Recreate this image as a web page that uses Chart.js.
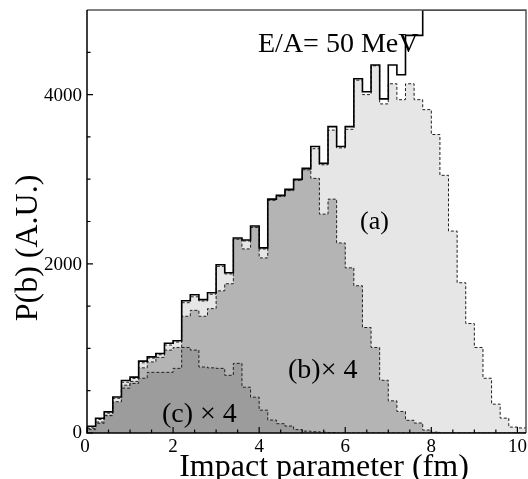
<!DOCTYPE html>
<html>
<head>
<meta charset="utf-8">
<script src="https://cdn.jsdelivr.net/npm/chart.js@4.4.1/dist/chart.umd.min.js"></script>
<style>
  html, body { margin: 0; padding: 0; background: #ffffff; }
  #wrap { width: 528px; height: 479px; position: relative; }
</style>
</head>
<body>
<div id="wrap"><canvas id="c" width="528" height="479"></canvas></div>
<script>
// Bin edges of the impact-parameter histogram (fm)
const binEdges = [0,0.2,0.4,0.6,0.8,1.0,1.2,1.4,1.6,1.8,2.0,2.2,2.4,2.6,2.8,3.0,3.2,3.4,3.6,3.8,
  4.0,4.2,4.4,4.6,4.8,5.0,5.2,5.4,5.6,5.8,6.0,6.2,6.4,6.6,6.8,7.0,7.2,7.4,7.6,7.8,
  8.0,8.2,8.4,8.6,8.8,9.0,9.2,9.4,9.6,9.8,10.0,10.2];

// Solid histogram (clipped at the top of the frame from 7.8 fm on)
const totalP = [80,175,250,425,620,660,850,900,940,1060,
  1090,1564,1635,1576,1658,1988,1894,2305,2282,2446,
  2188,2764,2810,2880,3000,3128,3387,3187,3622,3387,
  3622,4187,4034,4350,3950,4350,4234,4700,4700,5000,
  5000,5000,5000,5000,5000,5000,5000,5000,5000,5000,5000];

// (a)
const seriesA = [70,160,235,410,600,645,830,885,925,1040,
  1075,1540,1610,1560,1640,1970,1880,2290,2270,2430,
  2175,2750,2795,2865,2985,3110,3360,3170,3580,3370,
  3590,4170,4000,4340,3890,4128,3940,4128,3940,3822,
  3528,3046,2387,1776,1294,1011,647,341,176,70,60];

// (b) x 4
const seriesB4 = [55,130,210,360,565,610,770,840,894,980,
  1010,1380,1450,1380,1470,1680,1764,2290,2176,2430,
  2070,2750,2795,2865,2985,3110,3010,2587,2764,2246,
  1952,1740,1247,1011,623,380,255,150,118,35,
  10,0,0,0,0,0,0,0,0,0,0];

// (c) x 4
const seriesC4 = [40,115,205,370,530,585,647,717,717,717,
  764,1011,980,780,770,764,682,823,541,423,
  270,153,110,82,40,22,15,10,5,0,
  0,0,0,0,0,0,0,0,0,0,
  0,0,0,0,0,0,0,0,0,0,0];

const xMajorTicks = [0,2,4,6,8,10];
const yMajorTicks = [0,2000,4000];
const xMinorTicks = [0.5,1,1.5,2.5,3,3.5,4.5,5,5.5,6.5,7,7.5,8.5,9,9.5];
const yMinorTicks = [500,1000,1500,2500,3000,3500,4500];

const labelA = '(a)';
const labelB = '(b)\u00d7 4';
const labelC = '(c) \u00d7 4';
const energyLabel = 'E/A= 50 MeV';
const xTitle = 'Impact parameter (fm)';
const yTitle = 'P(b) (A.U.)';

function histPoints(vals) {
  const pts = [{x: binEdges[0], y: 0}];
  for (let i = 0; i < vals.length; i++) pts.push({x: binEdges[i], y: vals[i]});
  pts.push({x: binEdges[vals.length], y: vals[vals.length - 1]});
  return pts;
}

const SERIF = '"Liberation Serif", "DejaVu Serif", serif';

const decor = {
  id: 'decor',
  afterDraw(chart) {
    const ctx = chart.ctx;
    const xs = chart.scales.x, ys = chart.scales.y;
    const a = chart.chartArea;
    ctx.save();
    // frame
    ctx.lineWidth = 1.5;
    ctx.strokeStyle = '#555555';
    ctx.beginPath();
    ctx.moveTo(a.left, a.top); ctx.lineTo(a.right, a.top); ctx.lineTo(a.right, a.bottom);
    ctx.stroke();
    ctx.strokeStyle = '#000000';
    ctx.beginPath();
    ctx.moveTo(a.left, a.top); ctx.lineTo(a.left, a.bottom); ctx.lineTo(a.right, a.bottom);
    ctx.stroke();
    // inward ticks
    ctx.lineWidth = 1.2;
    ctx.beginPath();
    yMajorTicks.forEach(v => { const p = ys.getPixelForValue(v); ctx.moveTo(a.left, p); ctx.lineTo(a.left + 6, p); });
    yMinorTicks.forEach(v => { const p = ys.getPixelForValue(v); ctx.moveTo(a.left, p); ctx.lineTo(a.left + 3.5, p); });
    xMajorTicks.forEach(v => { const p = xs.getPixelForValue(v); ctx.moveTo(p, a.bottom); ctx.lineTo(p, a.bottom - 6); });
    xMinorTicks.forEach(v => { const p = xs.getPixelForValue(v); ctx.moveTo(p, a.bottom); ctx.lineTo(p, a.bottom - 3.5); });
    ctx.stroke();
    ctx.fillStyle = '#000000';
    // tick labels
    ctx.font = '19px ' + SERIF;
    ctx.textBaseline = 'alphabetic';
    ctx.textAlign = 'center';
    xMajorTicks.forEach(v => { ctx.fillText(String(v), xs.getPixelForValue(v) - (v === 0 ? 2 : 0), 452); });
    ctx.textAlign = 'right';
    yMajorTicks.forEach(v => { ctx.fillText(String(v), 82, ys.getPixelForValue(v) + 6 - (v === 0 ? 1 : 0)); });
    // texts
    ctx.textAlign = 'left';
    ctx.font = '28px ' + SERIF;
    ctx.fillText(energyLabel, 258, 52);
    ctx.font = '26px ' + SERIF;
    ctx.fillText(labelA, 360, 229);
    ctx.font = '28px ' + SERIF;
    ctx.fillText(labelB, 288, 378);
    ctx.fillText(labelC, 162, 422);
    // axis titles
    ctx.font = '32px ' + SERIF;
    ctx.textAlign = 'center';
    ctx.fillText(xTitle, 324, 476);
    ctx.save();
    ctx.translate(37, 248);
    ctx.rotate(-Math.PI / 2);
    ctx.fillText(yTitle, 0, 0);
    ctx.restore();
    ctx.restore();
  }
};

const dash = [3, 2];
new Chart(document.getElementById('c'), {
  type: 'line',
  data: {
    datasets: [
      { label: 'total', data: histPoints(totalP), stepped: true, borderColor: '#000000', borderWidth: 1.6,
        pointRadius: 0, fill: false },
      { label: 'c', data: histPoints(seriesC4), stepped: true, borderColor: '#222222', borderWidth: 1,
        borderDash: dash, pointRadius: 0, fill: 'origin', backgroundColor: '#9c9c9c' },
      { label: 'b', data: histPoints(seriesB4), stepped: true, borderColor: '#222222', borderWidth: 1,
        borderDash: dash, pointRadius: 0, fill: 'origin', backgroundColor: '#b4b4b4' },
      { label: 'a', data: histPoints(seriesA), stepped: true, borderColor: '#222222', borderWidth: 1,
        borderDash: dash, pointRadius: 0, fill: 'origin', backgroundColor: '#e6e6e6' }
    ]
  },
  options: {
    responsive: false,
    animation: false,
    devicePixelRatio: 1,
    layout: { padding: { top: 10, right: 2, left: 0, bottom: 0 } },
    plugins: { legend: { display: false }, tooltip: { enabled: false } },
    scales: {
      x: {
        type: 'linear', min: 0, max: 10.2,
        grid: { display: false }, border: { display: false },
        ticks: { display: false },
        afterBuildTicks: s => { s.ticks = xMajorTicks.map(v => ({ value: v })); },
        afterFit: s => { s.height = 46; }
      },
      y: {
        type: 'linear', min: 0, max: 5000,
        grid: { display: false }, border: { display: false },
        ticks: { display: false },
        afterBuildTicks: s => { s.ticks = yMajorTicks.map(v => ({ value: v })); },
        afterFit: s => { s.width = 87; }
      }
    }
  },
  plugins: [decor]
});
</script>
</body>
</html>
